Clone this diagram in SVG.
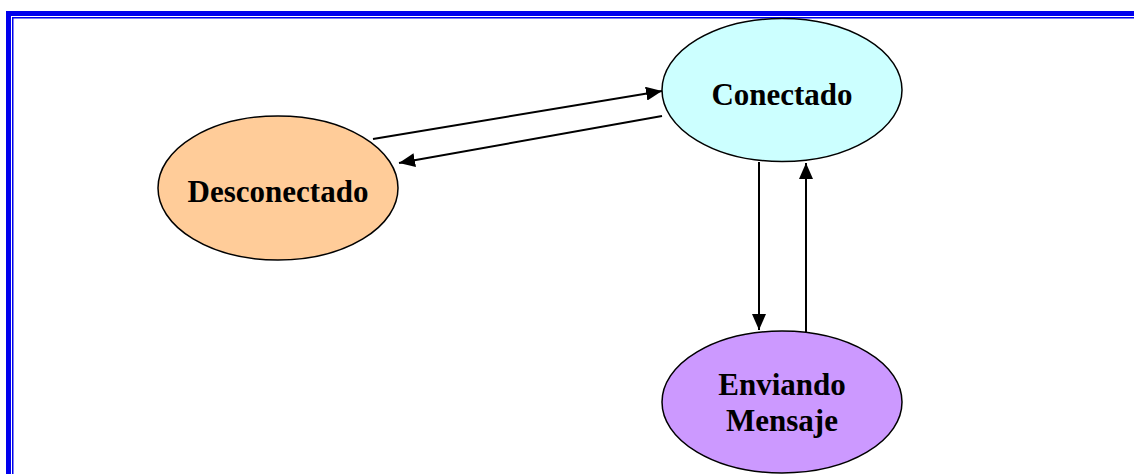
<svg xmlns="http://www.w3.org/2000/svg" width="1134" height="474" viewBox="0 0 1134 474">
  <style>
    .node { stroke: #000; stroke-width: 1.5; }
    .label { font-family: "Liberation Serif", "Times New Roman", serif; font-weight: bold; font-size: 31px; fill: #000; text-anchor: middle; }
    .edge { stroke: #000; stroke-width: 2; fill: none; marker-end: url(#arrow); }
  </style>
  <defs>
    <marker id="arrow" viewBox="0 0 16 14" refX="16" refY="7" markerWidth="16" markerHeight="14" markerUnits="userSpaceOnUse" orient="auto">
      <path d="M0,0 L16,7 L0,14 z" fill="#000"/>
    </marker>
  </defs>

  <!-- page frame: heavy outer rule with a thin inner rule -->
  <g id="frame" fill="#0000ee">
    <rect x="6" y="11" width="1128" height="5"/>
    <rect x="6" y="11" width="5" height="463"/>
    <rect x="12" y="17" width="1122" height="1.5"/>
    <rect x="12" y="17" width="1.5" height="457"/>
  </g>

  <g id="connectors">
    <line class="edge" x1="373" y1="139" x2="662" y2="91"/>
    <line class="edge" x1="662" y1="116" x2="399" y2="163"/>
    <line class="edge" x1="759" y1="162" x2="759" y2="330"/>
    <line class="edge" x1="806" y1="332" x2="806" y2="163"/>
  </g>

  <g id="desconectado">
    <ellipse class="node" cx="278" cy="188" rx="120" ry="72" fill="#ffcc99"/>
    <text class="label" x="278" y="202">Desconectado</text>
  </g>

  <g id="conectado">
    <ellipse class="node" cx="782" cy="90" rx="120" ry="71.5" fill="#ccffff"/>
    <text class="label" x="782" y="105">Conectado</text>
  </g>

  <g id="enviando-mensaje">
    <ellipse class="node" cx="782" cy="402" rx="120" ry="71" fill="#cc99ff"/>
    <text class="label" x="782" y="395">Enviando</text>
    <text class="label" x="782" y="431">Mensaje</text>
  </g>
</svg>
